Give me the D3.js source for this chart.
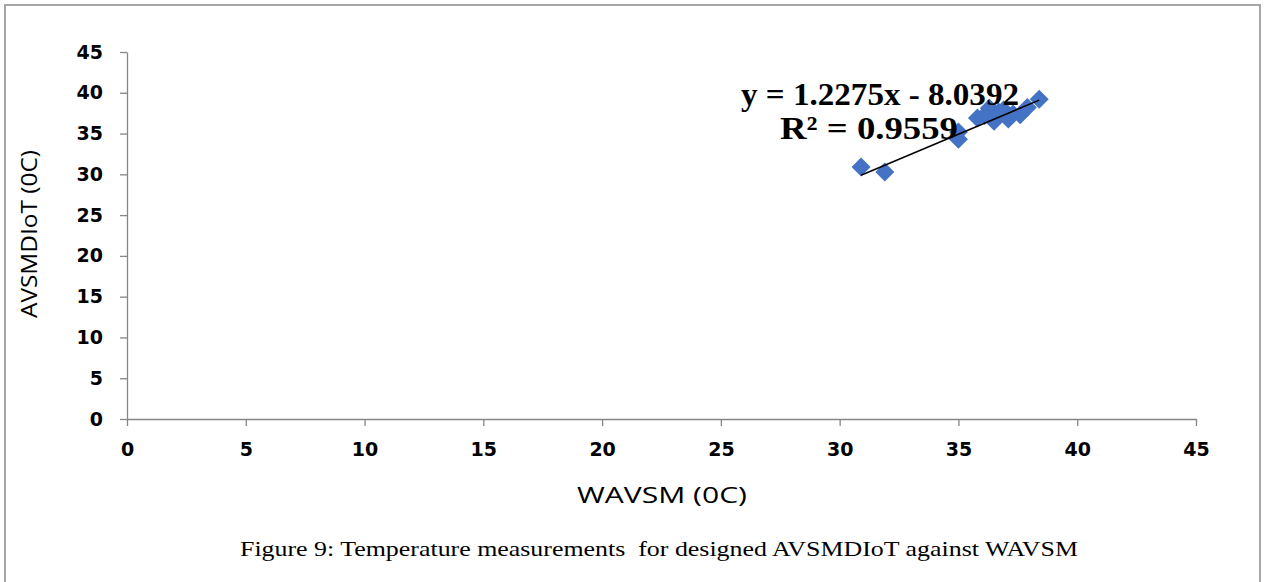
<!DOCTYPE html>
<html>
<head>
<meta charset="utf-8">
<script src="https://cdn.jsdelivr.net/npm/d3@7"></script>
<style>
    body { margin: 0; background: #fff; }
    svg { display: block; }
</style>
</head>
<body>
<div id="chart"></div>
<script>
// values
const wavsm    = [30.9, 31.9, 35.0, 35.0, 35.8, 36.1, 36.3, 36.5, 36.7, 36.9, 37.1, 37.3, 37.6, 37.9, 38.4];
const avsmdiot = [30.9, 30.3, 35.2, 34.3, 36.9, 37.2, 38.1, 36.5, 37.6, 37.9, 36.8, 37.4, 37.3, 38.2, 39.2];
const xTicks = [0, 5, 10, 15, 20, 25, 30, 35, 40, 45];
const yTicks = [0, 5, 10, 15, 20, 25, 30, 35, 40, 45];
const slope = 1.2275, intercept = -8.0392;
const eqLines = ["y = 1.2275x - 8.0392", "R\u00b2 = 0.9559"];
const caption = "Figure 9: Temperature measurements  for designed AVSMDIoT against WAVSM";

const width = 1264, height = 582;
const svg = d3.select("#chart").append("svg").attr("width", width).attr("height", height);

// outer frame (bottom edge runs off the picture)
svg.append("path")
    .attr("d", `M5,${height + 5} L5,5 L1260,5 L1260,${height + 5}`)
    .attr("fill", "none").attr("stroke", "#a6a6a6").attr("stroke-width", 2);

const x = d3.scaleLinear().domain([0, 45]).range([127, 1196]);
const y = d3.scaleLinear().domain([0, 45]).range([419, 52]);

const axisColor = "#868686";
const tickFont = "'DejaVu Sans', sans-serif";

// x axis
const xAxis = svg.append("g").attr("transform", `translate(0,${y(0)})`)
    .call(d3.axisBottom(x).tickValues(xTicks).tickSize(7).tickPadding(17).tickSizeOuter(0));
// y axis
const yAxis = svg.append("g").attr("transform", `translate(${x(0)},0)`)
    .call(d3.axisLeft(y).tickValues(yTicks).tickSize(7).tickPadding(17).tickSizeOuter(0));

[xAxis, yAxis].forEach(a => {
    a.select(".domain").attr("stroke", axisColor).attr("stroke-width", 1.3);
    a.selectAll(".tick line").attr("stroke", axisColor).attr("stroke-width", 1.3);
    a.selectAll(".tick text").attr("fill", "#000").style("font-family", tickFont)
        .style("font-weight", "bold").style("font-size", "19px");
});

// axis titles
svg.append("text").attr("x", 662).attr("y", 503).attr("text-anchor", "middle")
    .attr("textLength", 170).attr("lengthAdjust", "spacingAndGlyphs")
    .style("font-family", "'Open Sans', sans-serif").style("font-size", "21px")
    .text("WAVSM (0C)");
svg.append("text").attr("transform", `translate(37,234) rotate(-90)`).attr("text-anchor", "middle")
    .attr("textLength", 168).attr("lengthAdjust", "spacingAndGlyphs")
    .style("font-family", "'Open Sans', sans-serif").style("font-size", "21px")
    .text("AVSMDIoT (0C)");

// points
svg.append("g").selectAll("path")
    .data(wavsm.map((v, i) => [v, avsmdiot[i]]))
    .join("path")
    .attr("transform", d => `translate(${x(d[0])},${y(d[1])})`)
    .attr("d", "M0,-9.5L9.5,0L0,9.5L-9.5,0Z")
    .attr("fill", "#4472c4");

// linear trendline
const [xmin, xmax] = d3.extent(wavsm);
svg.append("line")
    .attr("x1", x(xmin)).attr("y1", y(slope * xmin + intercept))
    .attr("x2", x(xmax)).attr("y2", y(slope * xmax + intercept))
    .attr("stroke", "#000").attr("stroke-width", 1.5);

// equation label
const eqWidths = [278, 178];
svg.append("g").selectAll("text")
    .data(eqLines)
    .join("text")
    .attr("x", (d, i) => i ? 869 : 880).attr("y", (d, i) => 105 + i * 34)
    .attr("text-anchor", "middle")
    .attr("textLength", (d, i) => eqWidths[i]).attr("lengthAdjust", "spacingAndGlyphs")
    .style("font-family", "'Liberation Serif', 'Times New Roman', serif")
    .style("font-weight", "bold").style("font-size", "32px")
    .text(d => d);

// caption
svg.append("text").attr("x", 659).attr("y", 556).attr("text-anchor", "middle")
    .attr("textLength", 838).attr("lengthAdjust", "spacingAndGlyphs")
    .attr("xml:space", "preserve").style("white-space", "pre")
    .style("font-family", "'Liberation Serif', 'Times New Roman', serif").style("font-size", "22px")
    .text(caption);
</script>
</body>
</html>
